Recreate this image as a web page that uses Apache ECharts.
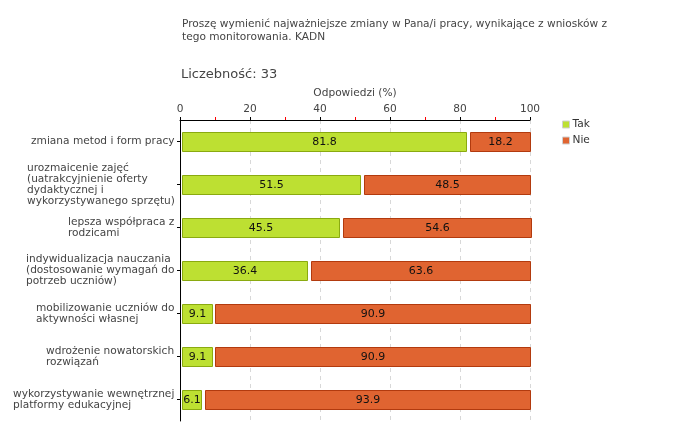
<!DOCTYPE html>
<html><head><meta charset="utf-8">
<script src="https://cdn.jsdelivr.net/npm/echarts@6/dist/echarts.min.js"></script>
<style>html,body{margin:0;padding:0;background:#fff}#c{width:680px;height:440px}</style>
</head><body><div id="c"></div>
<script>
const categories = [
  "zmiana metod i form pracy",
  "urozmaicenie zajęć\n(uatrakcyjnienie oferty\ndydaktycznej i\nwykorzystywanego sprzętu)",
  "lepsza współpraca z\nrodzicami",
  "indywidualizacja nauczania\n(dostosowanie wymagań do\npotrzeb uczniów)",
  "mobilizowanie uczniów do\naktywności własnej",
  "wdrożenie nowatorskich\nrozwiązań",
  "wykorzystywanie wewnętrznej\nplatformy edukacyjnej"
];
const takValues = [81.8, 51.5, 45.5, 36.4, 9.1, 9.1, 6.1];
const nieValues = [18.2, 48.5, 54.6, 63.6, 90.9, 90.9, 93.9];
const xTicks = [0, 20, 40, 60, 80, 100];

const FONT = '"DejaVu Sans", Verdana, sans-serif';
const FS = 10.6;
const cv = document.createElement('canvas').getContext('2d');
cv.font = FS + 'px ' + FONT;
const rich = {};
categories.forEach((c, i) => {
  const w = Math.max(...c.split('\n').map(l => cv.measureText(l).width));
  rich['r' + i] = {width: Math.ceil(w), align: 'left', fontSize: FS, lineHeight: 11, color: '#444', fontFamily: FONT};
});

const chart = echarts.init(document.getElementById('c'));

function makeSeries(name, vals, isTak, color, border) {
  return {
    type: 'custom', name: name,
    itemStyle: {color: color, borderColor: border},
    encode: {x: [0, 1], y: 2},
    data: vals.map((v, i) => isTak ? [0, v, i] : [takValues[i], takValues[i] + v, i]),
    renderItem: function (params, api) {
      const s = api.coord([api.value(0), api.value(2)]);
      const e = api.coord([api.value(1), api.value(2)]);
      const x0 = isTak ? s[0] + 2 : s[0] + 3.5;
      const x1 = e[0];
      const h = 20;
      const val = isTak ? takValues[params.dataIndex] : nieValues[params.dataIndex];
      return {
        type: 'rect',
        shape: {x: Math.round(x0) + 0.5, y: Math.round(s[1] - h / 2) + 0.5, width: Math.round(x1 - x0), height: h - 1},
        style: {fill: color, stroke: border, lineWidth: 1},
        textContent: {style: {text: val.toFixed(1), fill: '#111', fontSize: 11, fontFamily: FONT}},
        textConfig: {position: 'inside'}
      };
    }
  };
}

chart.setOption({
  animation: false,
  textStyle: {fontFamily: FONT},
  graphic: [
    {type: 'text', left: 182, top: 18, style: {text: 'Proszę wymienić najważniejsze zmiany w Pana/i pracy, wynikające z wniosków z\ntego monitorowania. KADN', fill: '#444', fontSize: FS, lineHeight: 13, fontFamily: FONT}},
    {type: 'text', left: 181, top: 68, style: {text: 'Liczebność: 33', fill: '#444', fontSize: 13, fontFamily: FONT}}
  ],
  legend: {
    orient: 'vertical', left: 557, top: 114, itemWidth: 7, itemHeight: 7, itemGap: 5,
    icon: 'rect', textStyle: {fontSize: FS, color: '#333', fontFamily: FONT, padding: [0, 0, 0, -2]},
    data: [
      {name: 'Tak', itemStyle: {color: '#BDE032', borderColor: '#d0d0d0', borderWidth: 1}},
      {name: 'Nie', itemStyle: {color: '#E06431', borderColor: '#d0d0d0', borderWidth: 1}}
    ]
  },
  grid: {left: 180, top: 120, width: 350, height: 301, containLabel: false},
  xAxis: {
    type: 'value', position: 'top', min: 0, max: 100, interval: 20,
    name: 'Odpowiedzi (%)', nameLocation: 'middle', nameGap: 21,
    nameTextStyle: {fontSize: FS, color: '#444', fontFamily: FONT},
    axisLine: {show: true, lineStyle: {color: '#000', width: 1}},
    axisTick: {show: true, length: 3, lineStyle: {color: '#000'}},
    minorTick: {show: true, splitNumber: 2, length: 3, lineStyle: {color: '#ff0000', width: 1}},
    axisLabel: {fontSize: FS, color: '#444', margin: 5, fontFamily: FONT,
      formatter: v => xTicks.includes(v) ? String(v) : ''},
    splitLine: {show: true, lineStyle: {color: '#d8d8d8', type: [4, 4]}}
  },
  yAxis: {
    type: 'category', inverse: true, data: categories,
    axisLine: {show: true, lineStyle: {color: '#000', width: 1}},
    axisTick: {show: true, alignWithLabel: true, length: 3, lineStyle: {color: '#000'}},
    axisLabel: {margin: 5, fontSize: FS, color: '#444', fontFamily: FONT,
      formatter: function (v) {
        const i = categories.indexOf(v);
        return v.split('\n').map(l => '{r' + i + '|' + l + '}').join('\n');
      }, rich: rich},
    splitLine: {show: false}
  },
  series: [
    makeSeries('Tak', takValues, true, '#BDE032', '#8AAA10'),
    makeSeries('Nie', nieValues, false, '#E06431', '#B23A0E')
  ]
});
</script></body></html>
